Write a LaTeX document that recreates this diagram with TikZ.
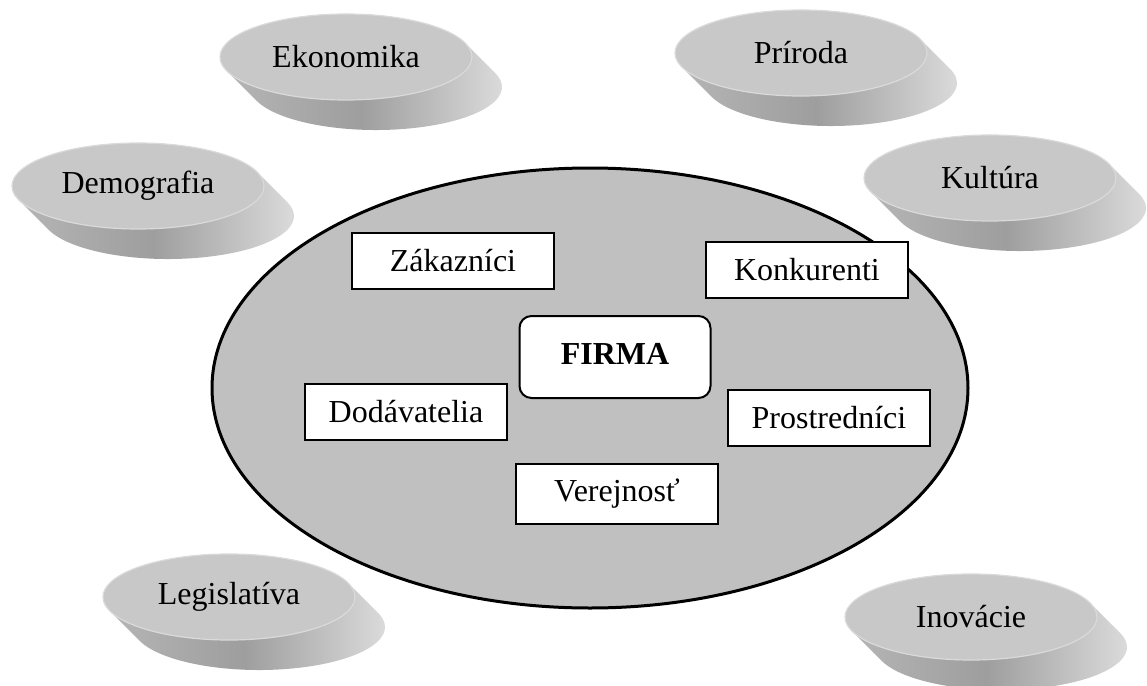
\documentclass[tikz,border=0pt]{standalone}
\usepackage{fontspec}
\setmainfont{Liberation Serif}
\usetikzlibrary{shapes.geometric}
\definecolor{discTop}{RGB}{200,200,200}
\definecolor{discRim}{RGB}{218,218,218}
\definecolor{sideLight}{RGB}{225,225,225}
\definecolor{sideMid}{RGB}{158,158,158}
\definecolor{sideDark}{RGB}{185,185,185}
\definecolor{envFill}{RGB}{192,192,192}

\begin{document}
\begin{tikzpicture}[x=0.5pt,y=-0.5pt,
  every node/.style={font=\fontsize{16}{19}\selectfont},
  disctop/.style={ellipse,fill=discTop,draw=discRim,line width=0.6pt,minimum width=126pt,minimum height=43pt,inner sep=0pt},
  discside/.style={left color=sideDark,right color=sideLight,middle color=sideMid},
  actor/.style={draw,line width=1pt,fill=white,minimum width=101pt,minimum height=28pt,inner sep=0pt},
  firm/.style={actor,rounded corners=6pt,minimum width=95.5pt,minimum height=41pt,font=\fontsize{16}{19}\selectfont\bfseries}]
\newcommand\Disc[4]{%
  \begin{scope}[shift={(#2,#3)}]
    \shade[discside] ([shift={(30,30)}]-18.84:126 and 43) arc[start angle=-18.84,end angle=161.16,x radius=126,y radius=43]
      -- ++(-30,-30) arc[start angle=161.16,end angle=341.16,x radius=126,y radius=43] -- cycle;
  \end{scope}
  \node[disctop] (#1) at (#2,#3) {#4};}
\useasboundingbox (0,0) rectangle (1147,686);

\node[ellipse,draw,line width=1.5pt,fill=envFill,minimum width=378pt,minimum height=220pt,inner sep=0pt] (env) at (590,388) {};

\Disc{ekonomika}{346}{57}{Ekonomika}
\Disc{priroda}{801}{53}{Príroda}
\Disc{demografia}{138}{186}{Demografia}
\Disc{kultura}{990}{178}{Kultúra}
\Disc{legislativa}{229}{597}{Legislatíva}
\Disc{inovacie}{971}{617}{Inovácie}

\node[actor] (zakaznici) at (453,261) {Zákazníci};
\node[actor] (konkurenti) at (807,270) {Konkurenti};
\node[firm] (firma) at (615,357) {\raisebox{3pt}{FIRMA}};
\node[actor] (dodavatelia) at (406,412) {Dodávatelia};
\node[actor] (prostrednici) at (829,418) {Prostredníci};
\node[actor,minimum height=30pt] (verejnost) at (617,494) {Verejnosť};
\end{tikzpicture}
\end{document}
